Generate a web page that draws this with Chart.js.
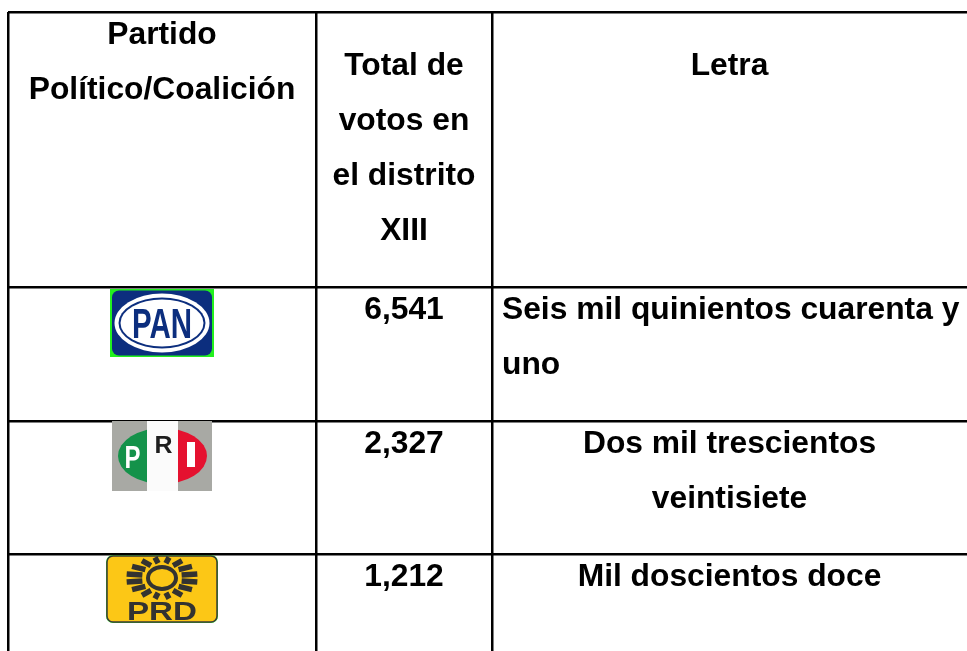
<!DOCTYPE html>
<html>
<head>
<meta charset="utf-8">
<script src="https://cdn.jsdelivr.net/npm/chart.js@4.4.1/dist/chart.umd.min.js"></script>
<style>
  body { margin: 0; background: #fff; }
  #tabla { display: block; }
</style>
</head>
<body>
<canvas id="tabla" width="967" height="651"></canvas>
<script>
// datos de la tabla
const encabezados = [['Partido', 'Político/Coalición'], ['Total de', 'votos en', 'el distrito', 'XIII'], ['Letra']];
const partidos = ['PAN', 'PRI', 'PRD'];
const votos = [6541, 2327, 1212];
const letras = [['Seis mil quinientos cuarenta y', 'uno'], ['Dos mil trescientos', 'veintisiete'], ['Mil doscientos doce']];

// bordes de columnas y filas (unidades de la escala)
const bordesCol = [0, 308, 484, 959];
const bordesFila = [0, 275, 409, 542, 639];
const interlinea = 55.3;
const fuente = 'bold 31px "Liberation Sans", Arial, sans-serif';
const estirar = 1.025;

function textoAjustado(ctx, str, cx, base, ancho, font, color) {
	ctx.font = font;
	var m = ctx.measureText(str).width;
	ctx.save();
	ctx.translate(cx, base);
	ctx.scale(ancho / m, 1);
	ctx.fillStyle = color;
	ctx.textAlign = 'center';
	ctx.textBaseline = 'alphabetic';
	ctx.fillText(str, 0, 0);
	ctx.restore();
}

function rectRedondo(ctx, x, y, w, h, r) {
	ctx.beginPath();
	ctx.moveTo(x + r, y);
	ctx.arcTo(x + w, y, x + w, y + h, r);
	ctx.arcTo(x + w, y + h, x, y + h, r);
	ctx.arcTo(x, y + h, x, y, r);
	ctx.arcTo(x, y, x + w, y, r);
	ctx.closePath();
}

var logos = {
	PAN: function(ctx, cx, top) {
		var w = 104, h = 68, l = cx - w / 2, t = top + 2, cy = t + h / 2;
		ctx.fillStyle = '#22f01e';
		ctx.fillRect(l, t, w, h);
		ctx.fillStyle = '#0c2e7e';
		rectRedondo(ctx, l + 2, t + 1.5, w - 4, h - 3, 7);
		ctx.fill();
		var anillos = [[47.5, 29.5, '#ffffff'], [43.5, 25.5, '#0c2e7e'], [41.5, 23.5, '#ffffff']];
		for (var i = 0; i < anillos.length; i++) {
			ctx.beginPath();
			ctx.ellipse(cx, cy, anillos[i][0], anillos[i][1], 0, 0, Math.PI * 2);
			ctx.fillStyle = anillos[i][2];
			ctx.fill();
		}
		textoAjustado(ctx, 'PAN', cx, cy + 15, 60, 'bold 42px "Liberation Sans", Arial, sans-serif', '#0c2e7e');
	},
	PRI: function(ctx, cx, top) {
		var w = 100, h = 70, l = cx - w / 2, t = top, cy = t + 35;
		ctx.fillStyle = '#a8a9a4';
		ctx.fillRect(l, t, w, h);
		ctx.fillStyle = '#fbfbfb';
		ctx.fillRect(cx - 15, t, 31, h);
		var partes = [[l, cx - 15, '#14924a'], [cx + 16, l + w, '#e5112f']];
		for (var i = 0; i < partes.length; i++) {
			ctx.save();
			ctx.beginPath();
			ctx.rect(partes[i][0], t, partes[i][1] - partes[i][0], h);
			ctx.clip();
			ctx.beginPath();
			ctx.ellipse(cx + 0.5, cy, 44.5, 28, 0, 0, Math.PI * 2);
			ctx.fillStyle = partes[i][2];
			ctx.fill();
			ctx.restore();
		}
		textoAjustado(ctx, 'P', cx - 29.5, cy + 12, 16, 'bold 31px "Liberation Sans", Arial, sans-serif', '#ffffff');
		textoAjustado(ctx, 'R', cx + 1.5, t + 32, 18, 'bold 24px "Liberation Sans", Arial, sans-serif', '#1e1e1e');
		ctx.fillStyle = '#ffffff';
		ctx.fillRect(cx + 25, cy - 14, 8, 25);
	},
	PRD: function(ctx, cx, top) {
		var w = 112, h = 68, l = cx - w / 2, t = top + 1;
		ctx.fillStyle = '#2ee62a';
		rectRedondo(ctx, l, t, w, h, 7);
		ctx.fill();
		ctx.fillStyle = '#fcc716';
		ctx.strokeStyle = '#3a3a38';
		ctx.lineWidth = 1.5;
		rectRedondo(ctx, l + 1, t + 1, w - 2, h - 2, 6);
		ctx.fill();
		ctx.stroke();
		var sy = t + 23;
		ctx.strokeStyle = '#333331';
		ctx.lineWidth = 5.5;
		ctx.beginPath();
		for (var k = 0; k < 16; k++) {
			var a = (k + 0.5) * Math.PI * 2 / 16;
			ctx.moveTo(cx + Math.cos(a) * 20, sy + Math.sin(a) * 15);
			ctx.lineTo(cx + Math.cos(a) * 36, sy + Math.sin(a) * 21);
		}
		ctx.stroke();
		ctx.lineWidth = 4;
		ctx.beginPath();
		ctx.ellipse(cx, sy, 14, 11, 0, 0, Math.PI * 2);
		ctx.stroke();
		textoAjustado(ctx, 'PRD', cx, t + 65, 70, 'bold 26px "Liberation Sans", Arial, sans-serif', '#333331');
	}
};

var dibujarTabla = {
	id: 'dibujarTabla',
	afterDraw: function(chart) {
		var ctx = chart.ctx, xs = chart.scales.x, ys = chart.scales.y;
		ctx.save();
		ctx.fillStyle = '#000';
		ctx.font = fuente;
		ctx.textBaseline = 'alphabetic';

		function centro(c) { return xs.getPixelForValue((bordesCol[c] + bordesCol[c + 1]) / 2); }
		function lineas(ls, c, fila, desde, alinear) {
			var top = ys.getPixelForValue(bordesFila[fila]);
			ctx.textAlign = alinear;
			var x = alinear === 'left' ? xs.getPixelForValue(bordesCol[c]) + 10 : centro(c);
			for (var i = 0; i < ls.length; i++) {
				ctx.save();
				ctx.translate(x, top + desde + i * interlinea);
				ctx.scale(estirar, 1);
				ctx.fillText(ls[i], 0, 0);
				ctx.restore();
			}
		}

		// encabezados
		var primera = [31.5, 62.5, 62.5];
		for (var c = 0; c < encabezados.length; c++) {
			lineas(encabezados[c], c, 0, primera[c], 'center');
		}

		// filas de partidos
		for (var i = 0; i < partidos.length; i++) {
			var top = ys.getPixelForValue(bordesFila[i + 1]);
			logos[partidos[i]](ctx, centro(0), top);
			ctx.fillStyle = '#000';
			ctx.font = fuente;
			lineas([votos[i].toLocaleString('en-US')], 1, i + 1, 31.5, 'center');
			lineas(letras[i], 2, i + 1, 31.5, i === 0 ? 'left' : 'center');
		}
		ctx.restore();
	}
};

function bordes(valores) {
	return function(escala) {
		escala.ticks = valores.map(function(v) { return { value: v }; });
	};
}

var tabla = new Chart(document.getElementById('tabla').getContext('2d'), {
	type: 'scatter',
	data: { datasets: [] },
	options: {
		responsive: false,
		animation: false,
		layout: { padding: { left: 8, top: 12, right: 0, bottom: 0 } },
		plugins: { legend: { display: false }, tooltip: { enabled: false } },
		scales: {
			x: {
				type: 'linear', min: 0, max: 959,
				afterBuildTicks: bordes(bordesCol.slice(0, 3)),
				ticks: { display: false },
				grid: { color: '#000', lineWidth: 2.5, drawTicks: false },
				border: { display: false }
			},
			y: {
				type: 'linear', min: 0, max: 639, reverse: true,
				afterBuildTicks: bordes(bordesFila.slice(0, 4)),
				ticks: { display: false },
				grid: { color: '#000', lineWidth: 2.5, drawTicks: false },
				border: { display: false }
			}
		}
	},
	plugins: [dibujarTabla]
});
</script>
</body>
</html>
